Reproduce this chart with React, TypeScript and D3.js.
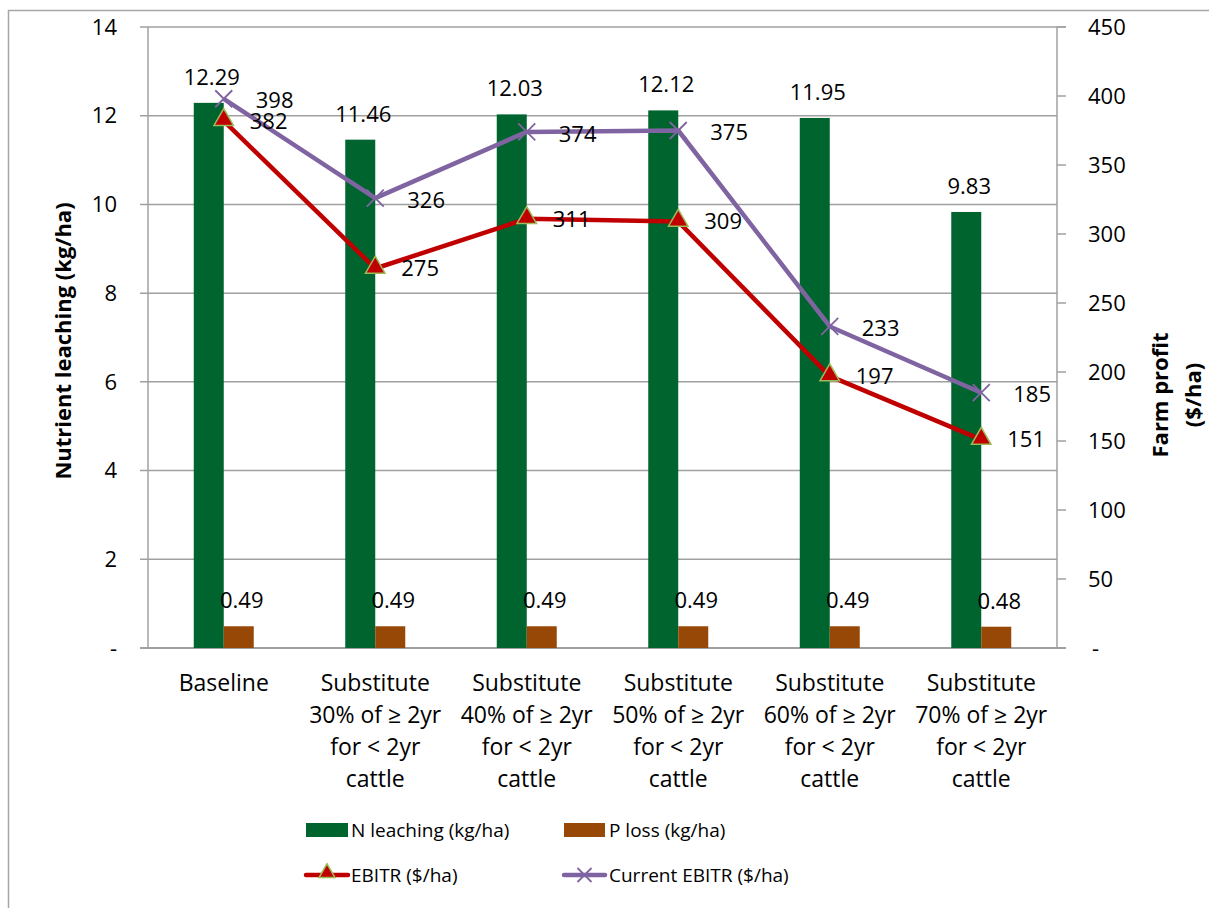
import React from 'react';
import * as d3 from 'd3';

const categories = ['Baseline', 'Sub30', 'Sub40', 'Sub50', 'Sub60', 'Sub70'];
const categoryLabels: string[][] = [
  ['Baseline'],
  ['Substitute', '30% of ≥ 2yr', 'for < 2yr', 'cattle'],
  ['Substitute', '40% of ≥ 2yr', 'for < 2yr', 'cattle'],
  ['Substitute', '50% of ≥ 2yr', 'for < 2yr', 'cattle'],
  ['Substitute', '60% of ≥ 2yr', 'for < 2yr', 'cattle'],
  ['Substitute', '70% of ≥ 2yr', 'for < 2yr', 'cattle'],
];
const nLeaching = [12.29, 11.46, 12.03, 12.12, 11.95, 9.83];
const pLoss = [0.49, 0.49, 0.49, 0.49, 0.49, 0.48];
const ebitr = [382, 275, 311, 309, 197, 151];
const currentEbitr = [398, 326, 374, 375, 233, 185];
const leftTicks = [0, 2, 4, 6, 8, 10, 12, 14];
const rightTicks = [0, 50, 100, 150, 200, 250, 300, 350, 400, 450];

const FONT = '"Open Sans", "Noto Sans", sans-serif';
const GREEN = '#00642F';
const ORANGE = '#974706';
const RED = '#C00000';
const PURPLE = '#8064A2';
const MARKER_EDGE = '#9BBB59';
const GRID = '#A0A0A0';

const plot = { left: 148, right: 1057, top: 27, bottom: 648 };

const x = d3.scaleBand<string>().domain(categories).range([plot.left, plot.right]);
const yL = d3.scaleLinear().domain([0, 14]).range([plot.bottom, plot.top]);
const yR = d3.scaleLinear().domain([0, 450]).range([plot.bottom, plot.top]);
const barW = x.bandwidth() * 0.198;
const cx = (i: number) => (x(categories[i]) as number) + x.bandwidth() / 2;

const line = d3
  .line<number>()
  .x((_, i) => cx(i))
  .y((d) => yR(d));

const triangle = d3.symbol(d3.symbolTriangle, 165)() as string;
const smallTriangle = d3.symbol(d3.symbolTriangle, 110)() as string;
const cross = (s: number) => `M${-s},${-s}L${s},${s}M${-s},${s}L${s},${-s}`;

const App: React.FC = () => {
  return (
    <svg
      width={1209}
      height={908}
      style={{ position: 'absolute', left: 0, top: 0, background: '#fff' }}
      fontFamily={FONT}
    >
      <rect x={8.5} y={10.5} width={1300} height={1000} fill="#fff" stroke="#A6A6A6" strokeWidth={1.5} />

      {/* gridlines */}
      {leftTicks.map((t) => (
        <line key={'g' + t} x1={plot.left - 8} x2={plot.right} y1={yL(t)} y2={yL(t)} stroke={GRID} strokeWidth={1.5} />
      ))}
      {rightTicks.map((t) => (
        <line key={'r' + t} x1={plot.right} x2={plot.right + 9} y1={yR(t)} y2={yR(t)} stroke={GRID} strokeWidth={1.5} />
      ))}
      <line x1={plot.left} x2={plot.left} y1={plot.top} y2={plot.bottom} stroke={GRID} strokeWidth={1.5} />
      <line x1={plot.right} x2={plot.right} y1={plot.top} y2={plot.bottom} stroke={GRID} strokeWidth={1.5} />
      <line x1={plot.left - 8} x2={plot.right + 9} y1={plot.bottom} y2={plot.bottom} stroke={GRID} strokeWidth={2} />
      <line x1={plot.right} x2={plot.right + 9} y1={plot.top} y2={plot.top} stroke={GRID} strokeWidth={1.5} />

      {/* left axis labels */}
      {leftTicks.map((t) => (
        <text key={'lt' + t} x={117} y={yL(t)} dy="0.35em" textAnchor="end" fontSize={22}>
          {t === 0 ? '-' : t}
        </text>
      ))}
      {rightTicks.map((t) => (
        <text key={'rt' + t} x={t === 0 ? 1092 : 1088} y={yR(t)} dy="0.35em" textAnchor="start" fontSize={22}>
          {t === 0 ? '-' : t}
        </text>
      ))}

      {/* bars */}
      {nLeaching.map((v, i) => (
        <rect key={'n' + i} x={cx(i) - barW} y={yL(v)} width={barW} height={plot.bottom - yL(v)} fill={GREEN} />
      ))}
      {pLoss.map((v, i) => (
        <rect key={'p' + i} x={cx(i)} y={yL(v)} width={barW} height={plot.bottom - yL(v)} fill={ORANGE} />
      ))}

      {/* lines */}
      <path d={line(ebitr) as string} fill="none" stroke={RED} strokeWidth={4.5} strokeLinejoin="round" />
      <path d={line(currentEbitr) as string} fill="none" stroke={PURPLE} strokeWidth={4.5} strokeLinejoin="round" />
      {ebitr.map((v, i) => (
        <path key={'tm' + i} d={triangle} transform={`translate(${cx(i)},${yR(v) - 1})`} fill={RED} stroke={MARKER_EDGE} strokeWidth={1.5} />
      ))}
      {currentEbitr.map((v, i) => (
        <path key={'xm' + i} d={cross(8.5)} transform={`translate(${cx(i)},${yR(v)})`} stroke={PURPLE} strokeWidth={1.8} fill="none" />
      ))}

      {/* bar labels */}
      {nLeaching.map((v, i) => (
        <text key={'nl' + i} x={cx(i) - barW / 2 + 3} y={yL(v) - 18} textAnchor="middle" fontSize={22}>
          {v.toFixed(2)}
        </text>
      ))}
      {pLoss.map((v, i) => (
        <text key={'pl' + i} x={cx(i) + barW / 2 + 3} y={yL(v) - 18} textAnchor="middle" fontSize={22}>
          {v.toFixed(2)}
        </text>
      ))}

      {/* line labels */}
      {ebitr.map((v, i) => (
        <text key={'el' + i} x={cx(i) + 26} y={yR(v)} dy="0.35em" fontSize={22}>
          {v}
        </text>
      ))}
      {currentEbitr.map((v, i) => (
        <text key={'cl' + i} x={cx(i) + 32} y={yR(v) + 2} dy="0.35em" fontSize={22}>
          {v}
        </text>
      ))}

      {/* category labels */}
      {categoryLabels.map((lines, i) => (
        <text key={'c' + i} x={cx(i)} y={683} textAnchor="middle" fontSize={23}>
          {lines.map((l, j) => (
            <tspan key={j} x={cx(i)} y={683 + j * 32} dy="0.35em">
              {l}
            </tspan>
          ))}
        </text>
      ))}

      {/* axis titles */}
      <text transform="translate(63,341) rotate(-90)" textAnchor="middle" dy="0.35em" fontSize={22} fontWeight="bold">
        Nutrient leaching (kg/ha)
      </text>
      <text transform="translate(1160,395) rotate(-90)" textAnchor="middle" dy="0.35em" fontSize={22} fontWeight="bold">
        Farm profit
      </text>
      <text transform="translate(1193,395) rotate(-90)" textAnchor="middle" dy="0.35em" fontSize={22} fontWeight="bold">
        ($/ha)
      </text>

      {/* legend */}
      <rect x={306} y={823} width={42} height={14} fill={GREEN} />
      <text x={351} y={830} dy="0.35em" fontSize={19}>N leaching (kg/ha)</text>
      <rect x={564} y={823} width={41} height={14} fill={ORANGE} />
      <text x={609} y={830} dy="0.35em" fontSize={19}>P loss (kg/ha)</text>
      <line x1={306} x2={348} y1={875} y2={875} stroke={RED} strokeWidth={4.5} strokeLinecap="round" />
      <path d={smallTriangle} transform="translate(327,873)" fill={RED} stroke={MARKER_EDGE} strokeWidth={1.5} />
      <text x={351} y={875} dy="0.35em" fontSize={19}>EBITR ($/ha)</text>
      <line x1={564} x2={605} y1={875} y2={875} stroke={PURPLE} strokeWidth={4.5} strokeLinecap="round" />
      <path d={cross(7)} transform="translate(584.5,875)" stroke={PURPLE} strokeWidth={1.8} fill="none" />
      <text x={609} y={875} dy="0.35em" fontSize={19}>Current EBITR ($/ha)</text>
    </svg>
  );
};

export default App;
